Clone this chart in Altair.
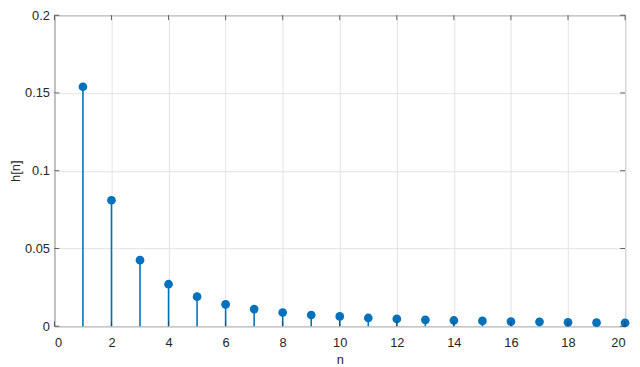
import altair as alt
import pandas as pd

n_vals = list(range(1, 21))
h_vals = [0.154, 0.081, 0.0425, 0.027, 0.019, 0.014, 0.011, 0.0088, 0.0072, 0.0063,
          0.0053, 0.0047, 0.0041, 0.0037, 0.0034, 0.0030, 0.0028, 0.0025, 0.0023, 0.0021]
x_ticks = list(range(0, 21, 2))
y_ticks = [0, 0.05, 0.1, 0.15, 0.2]

W, H = 578, 315
TXT = "#262626"
BLUE = "#0072BD"
FONT = "Liberation Sans"

df = pd.DataFrame({"n": n_vals, "h": h_vals})
xt = pd.DataFrame({"v": x_ticks})
yt = pd.DataFrame({"v": y_ticks})

xs = alt.Scale(domain=[0, 20], nice=False, zero=False)
ys = alt.Scale(domain=[0, 0.2], nice=False)

xaxis = alt.Axis(title="n", values=x_ticks, grid=True, ticks=False, domain=False,
                 labelPadding=11, titlePadding=4, format="d")
yaxis = alt.Axis(title="h[n]", values=y_ticks, grid=True, ticks=False, domain=False,
                 labelPadding=5, titlePadding=2, format="~g")

stems = alt.Chart(df).mark_rule(color=BLUE, strokeWidth=1.6).encode(
    x=alt.X("n:Q", scale=xs, axis=xaxis),
    y=alt.Y("h:Q", scale=ys, axis=yaxis),
    y2=alt.datum(0),
)
dots = alt.Chart(df).mark_circle(color=BLUE, size=78, opacity=1).encode(
    x=alt.X("n:Q", scale=xs, title="n"),
    y=alt.Y("h:Q", scale=ys, title="h[n]"),
)

tk = dict(color="#3a3a3a", strokeWidth=0.8)
xb = alt.Chart(xt).mark_rule(**tk).encode(
    x=alt.X("v:Q", scale=xs, title="n"), y=alt.value(H), y2=alt.value(H - 5))
xtp = alt.Chart(xt).mark_rule(**tk).encode(
    x=alt.X("v:Q", scale=xs, title="n"), y=alt.value(0), y2=alt.value(5))
yl = alt.Chart(yt).mark_rule(**tk).encode(
    y=alt.Y("v:Q", scale=ys, title="h[n]"), x=alt.value(0), x2=alt.value(5))
yr = alt.Chart(yt).mark_rule(**tk).encode(
    y=alt.Y("v:Q", scale=ys, title="h[n]"), x=alt.value(W - 5), x2=alt.value(W))

chart = alt.layer(stems, dots, xb, xtp, yl, yr).properties(
    width=W, height=H,
    autosize=alt.AutoSizeParams(type="none"),
    padding={"left": 47, "top": 5, "right": 7, "bottom": 39},
).configure_view(
    stroke="#3a3a3a", strokeWidth=1
).configure_axis(
    labelFont=FONT, titleFont=FONT, labelFontSize=13, titleFontSize=13,
    labelColor=TXT, titleColor=TXT, titleFontWeight="normal",
    gridColor="#e3e3e3", gridWidth=1,
)

chart.save("out.html", embed_options={"renderer": "svg", "actions": False})
